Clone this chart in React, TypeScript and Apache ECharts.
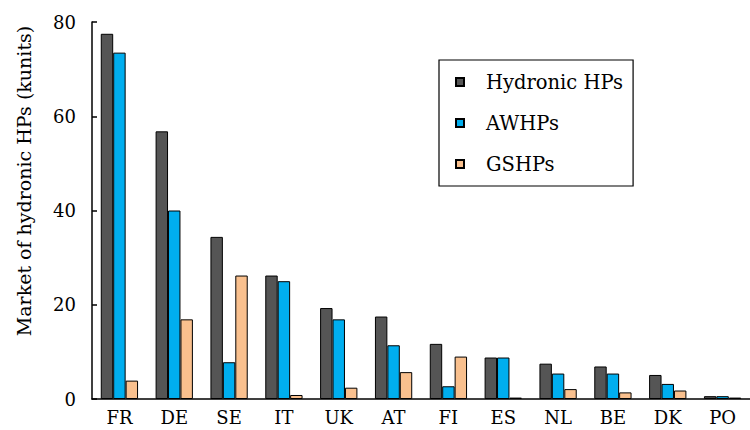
import React, { useEffect, useRef } from "react";
import * as echarts from "echarts";

const categories = ["FR", "DE", "SE", "IT", "UK", "AT", "FI", "ES", "NL", "BE", "DK", "PO"];
const hydronic = [77.5, 56.8, 34.4, 26.2, 19.3, 17.5, 11.7, 8.8, 7.5, 6.9, 5.1, 0.6];
const awhp = [73.5, 40.0, 7.8, 25.0, 16.9, 11.4, 2.7, 8.8, 5.4, 5.4, 3.2, 0.6];
const gshp = [3.9, 16.9, 26.2, 0.85, 2.4, 5.7, 9.0, 0.3, 2.1, 1.4, 1.8, 0.3];
const yTicks = { min: 0, max: 80, interval: 20 };
const seriesNames = ["Hydronic HPs", "AWHPs", "GSHPs"];
const yAxisTitle = "Market of hydronic HPs (kunits)";

const FONT = "DejaVu Serif";

export default function App() {
  const ref = useRef<HTMLDivElement>(null);
  useEffect(() => {
    if (!ref.current) return;
    document.body.style.margin = "0";
    const chart = echarts.init(ref.current, undefined, { renderer: "svg" });
    const colors = ["#555555", "#00AEEF", "#F9C08E"];
    const data = [hydronic, awhp, gshp];
    chart.setOption({
      animation: false,
      backgroundColor: "#ffffff",
      grid: { left: 92, top: 22, bottom: 31, right: -8, containLabel: false },
      xAxis: {
        type: "category",
        data: categories,
        axisLine: { show: true, lineStyle: { color: "#000", width: 1.5 } },
        axisTick: { show: false },
        axisLabel: { color: "#000", fontFamily: FONT, fontSize: 18, margin: 9 },
      },
      yAxis: {
        type: "value",
        min: yTicks.min,
        max: yTicks.max,
        interval: yTicks.interval,
        axisLine: { show: true, lineStyle: { color: "#000", width: 1.5 } },
        axisTick: { show: true, inside: true, length: 5, lineStyle: { color: "#000", width: 1.5 } },
        splitLine: { show: false },
        axisLabel: { color: "#000", fontFamily: FONT, fontSize: 18, margin: 16 },
      },
      legend: {
        orient: "vertical",
        left: 439,
        top: 60,
        borderColor: "#000",
        borderWidth: 1.2,
        padding: [12, 10, 12, 16],
        itemWidth: 8,
        itemHeight: 8,
        itemGap: 21,
        icon: "rect",
        textStyle: { color: "#000", fontFamily: FONT, fontSize: 19.5, padding: [0, 0, 0, 17] },
        data: seriesNames,
      },
      graphic: [
        {
          type: "text",
          x: 24,
          y: 181,
          rotation: Math.PI / 2,
          style: {
            text: yAxisTitle,
            fontFamily: FONT,
            fontSize: 19,
            fill: "#000",
            align: "center",
            verticalAlign: "middle",
          },
        },
      ],
      series: seriesNames.map((name, i) => ({
        name,
        type: "bar",
        data: data[i],
        barGap: "0%",
        barCategoryGap: "32%",
        itemStyle: { color: colors[i], borderColor: "#000", borderWidth: 1 },
      })),
    });
    return () => chart.dispose();
  }, []);
  return <div ref={ref} style={{ width: 750, height: 430 }} />;
}
